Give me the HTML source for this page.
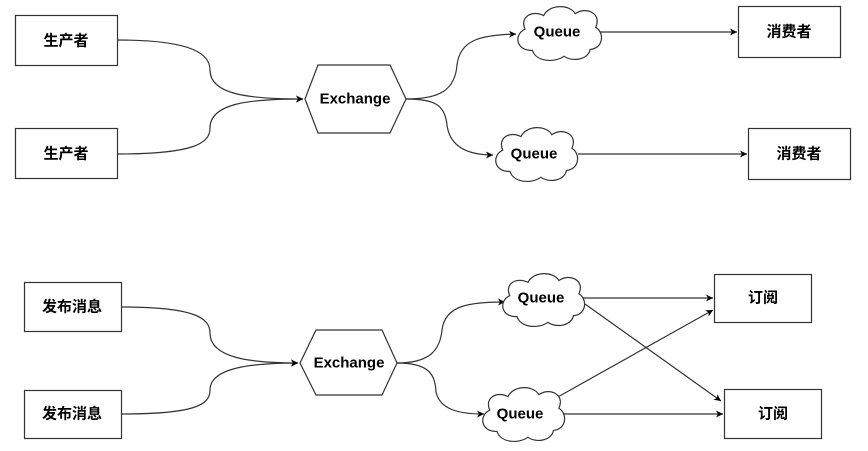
<!DOCTYPE html>
<html><head><meta charset="utf-8"><style>
html,body{margin:0;padding:0;background:#fff;}
svg{display:block;}
text{font-family:"Liberation Sans","Noto Sans CJK SC",sans-serif;font-weight:bold;font-size:15px;fill:#000;}
</style></head><body>
<svg width="868" height="451" viewBox="0 0 868 451" xmlns="http://www.w3.org/2000/svg">
<defs>
<marker id="a" markerWidth="8" markerHeight="8" refX="7" refY="4" orient="auto" markerUnits="userSpaceOnUse">
<path d="M0,0.5 L7,4 L0,7.5 L2,4 Z" fill="#000"/></marker>
<symbol id="cloud" viewBox="0 0 100 60" preserveAspectRatio="none">
<path vector-effect="non-scaling-stroke" d="M22,48 C5,49 1,32 14,26 C8,13 22,6 34,12 C40,0 62,0 68,10 C80,2 97,10 90,24 C100,30 98,46 84,47 C82,58 64,60 56,54 C46,61 26,60 22,48 Z" fill="#fff" stroke="#333" stroke-width="1.2"/>
</symbol>
</defs>
<g fill="none" stroke="#333" stroke-width="1.2">
<rect x="15.5" y="15.5" width="102" height="50" fill="#fff"/>
<rect x="15.5" y="128.5" width="102" height="50" fill="#fff"/>
<path d="M117,40 C195,40 210,55 210,70 C210,95 250,99 303,99" marker-end="url(#a)"/>
<path d="M117,154 C195,154 210,143 210,128 C210,103 250,99 303,99" marker-end="url(#a)"/>
<polygon points="318,65 390,65 406,99 390,133 318,133 305,99" fill="#fff"/>
<path d="M406,99 C440,99 455,90 457,65 C460,40 480,35 516,34" marker-end="url(#a)"/>
<path d="M406,99 C435,99 445,105 447,125 C450,148 470,155 493,155" marker-end="url(#a)"/>
<path d="M598,32 L737,32" marker-end="url(#a)"/>
<path d="M578,154 L747,154" marker-end="url(#a)"/>
<rect x="738.5" y="6.5" width="102" height="51" fill="#fff"/>
<rect x="748.5" y="128.5" width="102" height="51" fill="#fff"/>
<rect x="24.5" y="282.5" width="97" height="49" fill="#fff"/>
<rect x="24.5" y="390.5" width="97" height="48" fill="#fff"/>
<path d="M121,307 C195,307 210,318 210,333 C210,358 250,363 298,363" marker-end="url(#a)"/>
<path d="M121,414 C195,414 210,405 210,390 C210,368 250,363 298,363" marker-end="url(#a)"/>
<polygon points="316,330 382,330 397,363 382,395 316,395 300,363" fill="#fff"/>
<path d="M397,363 C430,363 440,350 442,330 C445,305 470,302 505,302" marker-end="url(#a)"/>
<path d="M397,363 C430,363 435,375 436,392 C440,410 460,414 484,414" marker-end="url(#a)"/>
<path d="M578,298 L713,298" marker-end="url(#a)"/>
<path d="M585,304 L721,401" marker-end="url(#a)"/>
<path d="M556,398 L713,310" marker-end="url(#a)"/>
<path d="M561,414 L723,414" marker-end="url(#a)"/>
<rect x="714.5" y="274.5" width="97" height="48" fill="#fff"/>
<rect x="724.5" y="389.5" width="97" height="49" fill="#fff"/>
</g>
<use href="#cloud" x="512" y="4" width="93" height="58"/>
<use href="#cloud" x="490" y="125" width="91" height="58"/>
<use href="#cloud" x="497" y="271" width="91" height="57"/>
<use href="#cloud" x="477" y="385" width="91" height="58"/>
<g text-anchor="middle" dominant-baseline="central">
<text x="66" y="41">生产者</text>
<text x="66" y="154">生产者</text>
<text x="355" y="99">Exchange</text>
<text x="557" y="32">Queue</text>
<text x="534" y="154">Queue</text>
<text x="789" y="32">消费者</text>
<text x="799" y="154">消费者</text>
<text x="72" y="307">发布消息</text>
<text x="72" y="414">发布消息</text>
<text x="349" y="363">Exchange</text>
<text x="541" y="298">Queue</text>
<text x="520" y="414">Queue</text>
<text x="763" y="298">订阅</text>
<text x="773" y="414">订阅</text>
</g>
</svg>
</body></html>
